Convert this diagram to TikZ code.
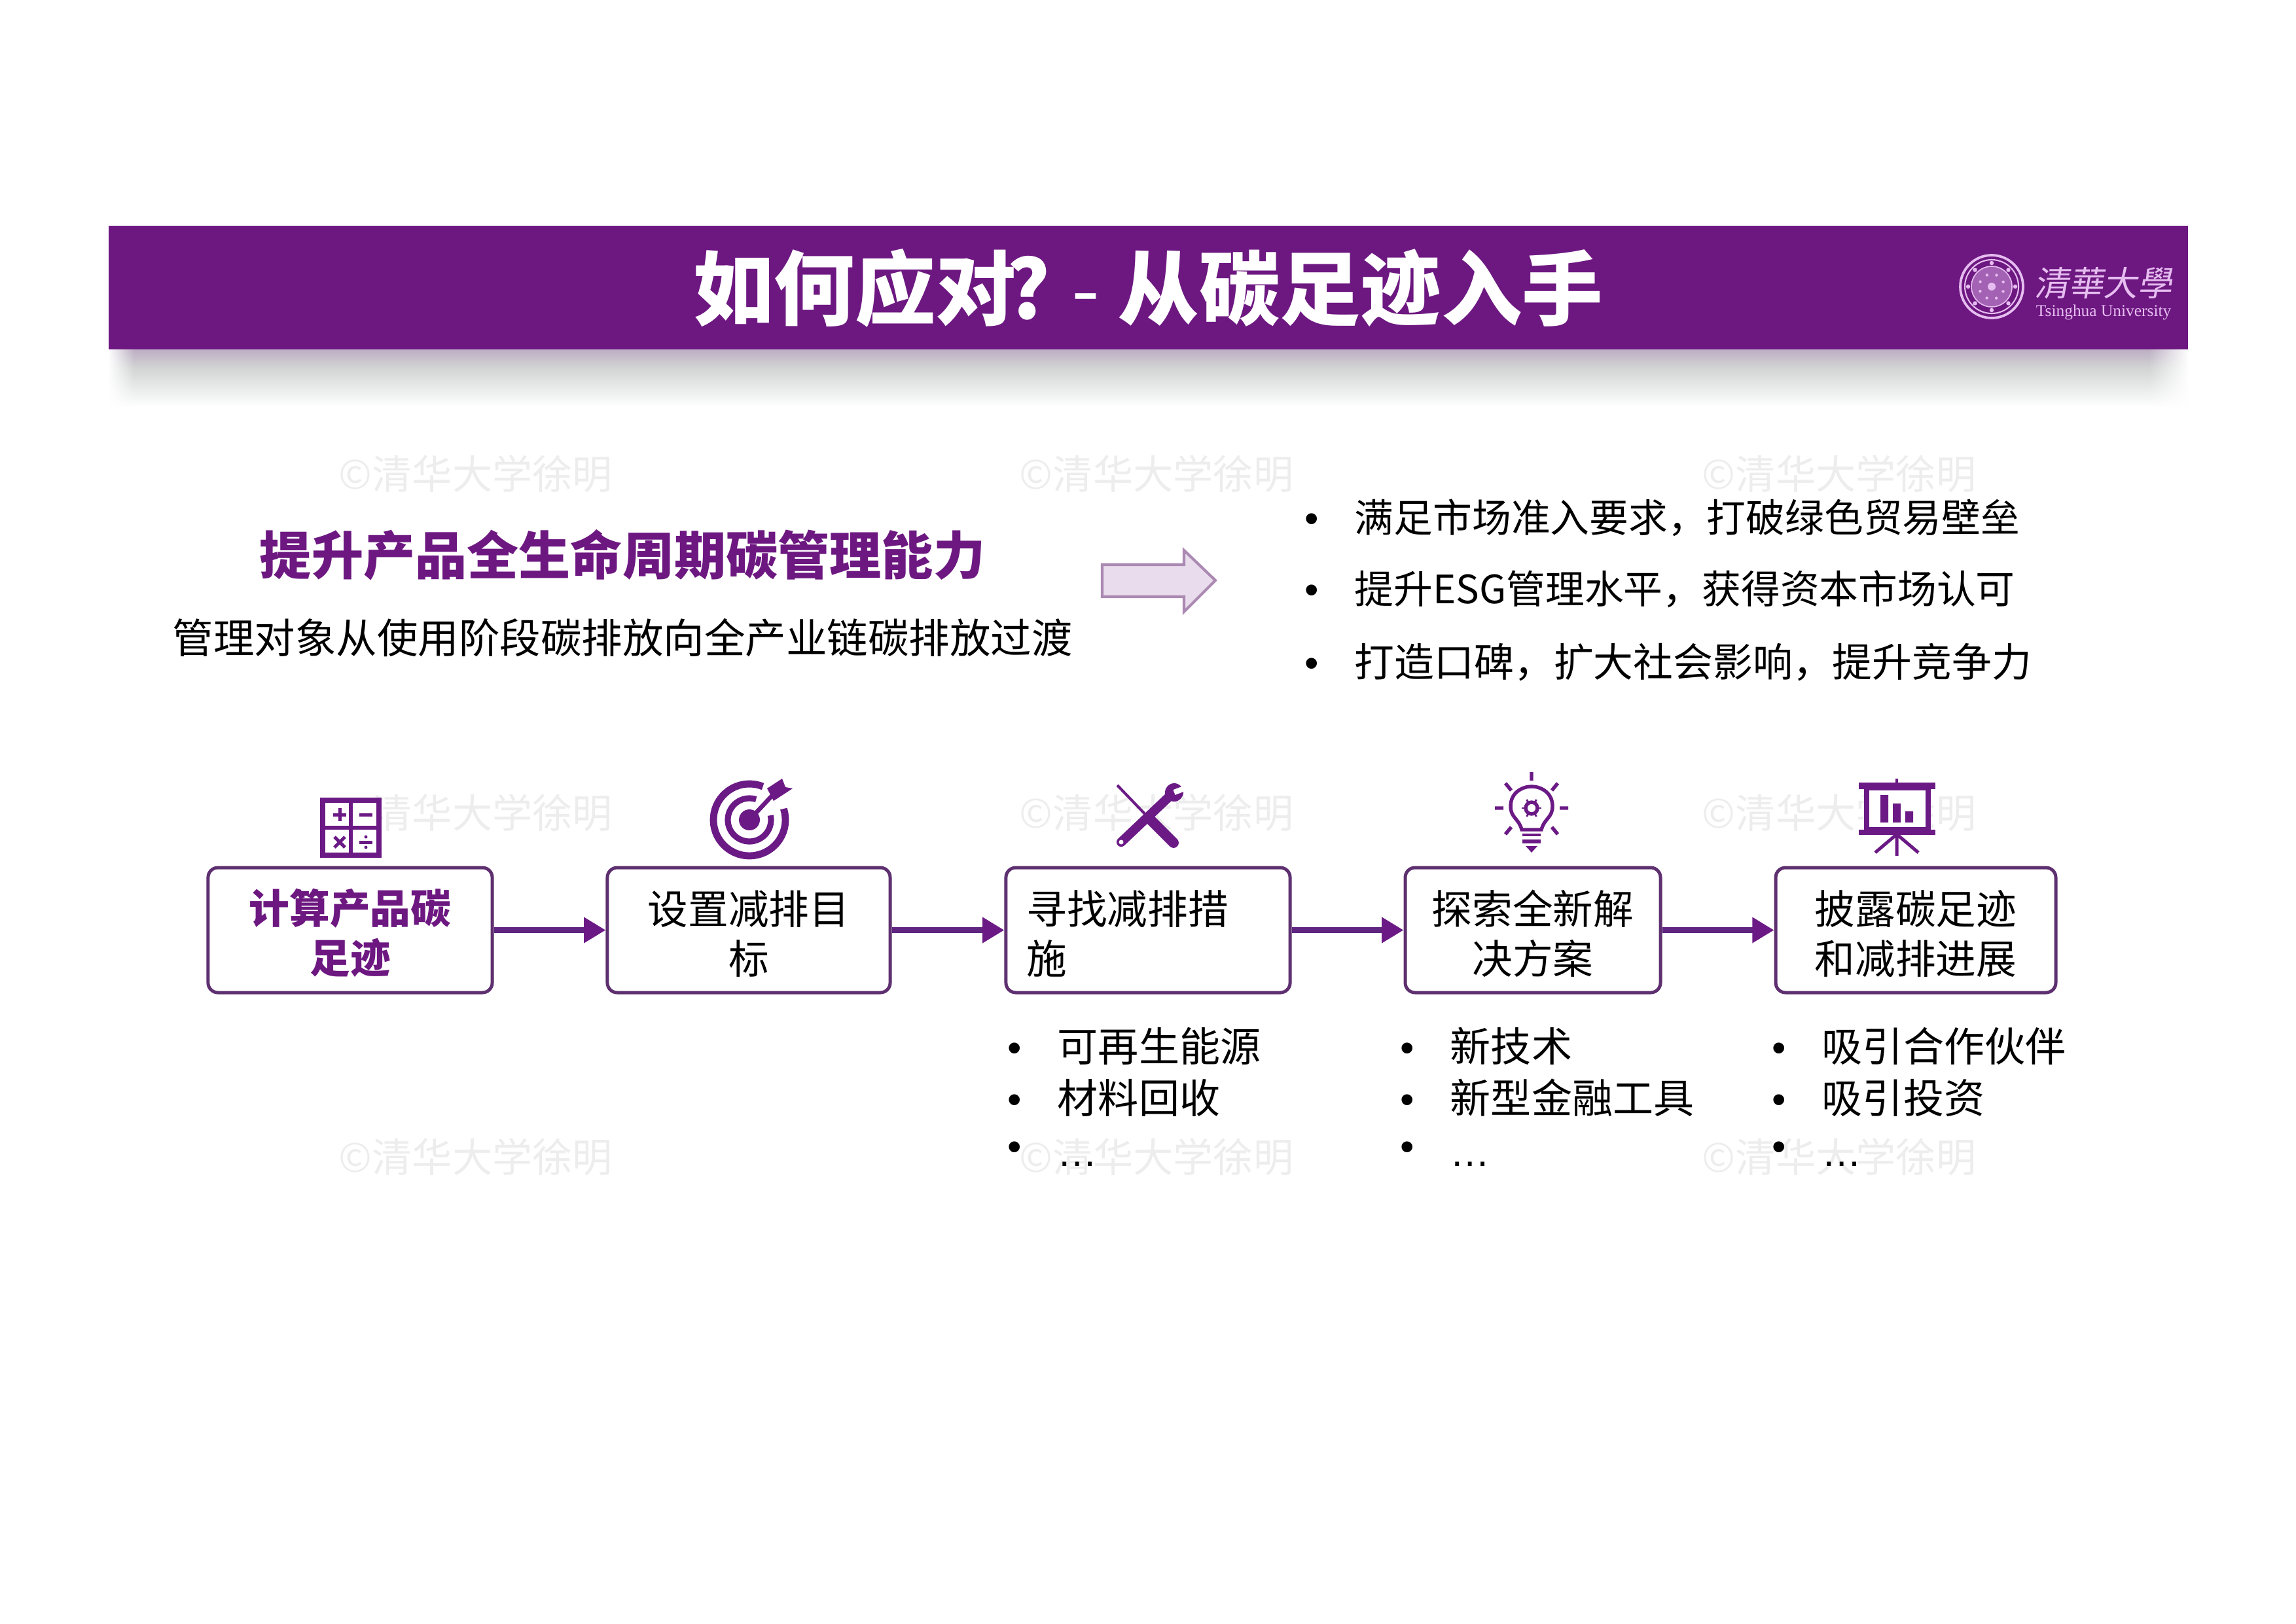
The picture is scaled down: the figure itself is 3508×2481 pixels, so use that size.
\documentclass[tikz,border=0pt]{standalone}
\usepackage{fontspec}
\setmainfont{Noto Sans CJK SC}
\newfontfamily\latinf{Liberation Sans}
\newfontfamily\serff{Liberation Serif}
\newfontfamily\logof[FakeSlant=0.18]{Noto Sans CJK TC}
\usetikzlibrary{arrows.meta,fadings}
\definecolor{banner}{HTML}{6D1881}
\definecolor{boxline}{HTML}{5E3070}
\definecolor{conncol}{HTML}{5F2580}
\definecolor{icon}{HTML}{6B1A85}
\definecolor{mark}{HTML}{EDEDED}
\definecolor{logoc}{HTML}{E6BDF0}
\definecolor{shadowa}{HTML}{BDAEC4}
\definecolor{shadowb}{HTML}{D2D4D4}
\newcommand\fwc{\char"FF0C\relax}
\newcommand\toprule{\rule{0pt}{15pt}}
\tikzset{
  wmark/.style={anchor=base,text=mark,inner sep=0pt,font=\fontsize{14.7}{18}\selectfont},
  fbox/.style={draw=boxline,fill=white,line width=1.2pt,rounded corners=3.6pt,inner sep=0pt,
     minimum height=45.84pt,align=center,font=\fontsize{14.8}{18.3}\selectfont},
  conn/.style={draw=conncol,line width=2.1pt,-{Triangle[length=8pt,width=9pt,color=icon]}},
  bul/.style={anchor=base,inner sep=0pt,font=\latinf\fontsize{14.7}{18}\selectfont},
  item/.style={anchor=base west,inner sep=0pt,font=\fontsize{14.9}{18}\selectfont},
  ritem/.style={anchor=base west,inner sep=0pt,font=\fontsize{14.35}{18}\selectfont},
  ic/.style={draw=icon,line width=1.3pt},
}
\begin{document}
\begin{tikzpicture}[x=0.24pt,y=-0.24pt]
\useasboundingbox (0,0) rectangle (3508,2481);
% banner shadow
\shade[top color=shadowa,bottom color=shadowb] (166,534) rectangle (3343,562);
\shade[top color=shadowb,bottom color=white] (166,562) rectangle (3343,622);
\fill[white,path fading=west] (3283,534) rectangle (3344,622);
\fill[white,path fading=east] (165,534) rectangle (205,622);
\fill[banner] (166,345) rectangle (3343,534);
% watermarks
\foreach \n/\px/\py in {wa/727/747,wb/1767/747,wc/2810/747,wd/727/1265,we/1767/1265,wf/2810/1265,wg/727/1791,wh/1767/1791,wi/2810/1791}
  \node[wmark] (\n) at (\px,\py) {©清华大学徐明};
% title
\node[anchor=base,inner sep=0pt,text=white,font=\bfseries\fontsize{29.6}{36}\selectfont] (title) at (1754,487) {如何应对\hspace{-3.5pt}?\hspace{-1pt} \textmd{-} 从碳足迹入手};
% logo
\draw[logoc,line width=0.9pt] (3043,438) circle (48);
\draw[logoc,line width=0.5pt] (3043,438) circle (41);
\draw[logoc,line width=0.4pt,fill=logoc!45!banner] (3043,438) circle (31);
\fill[logoc] (3043,438) circle (6);
\foreach \a in {0,45,...,315}{
  \fill[logoc] ({3043+36*cos(\a)},{438-36*sin(\a)}) circle (3.2);
  \fill[logoc] ({3043+19*cos(\a+22)},{438-19*sin(\a+22)}) circle (2.2);
}
\node[anchor=base west,inner sep=0pt,text=logoc,font=\logof\fontsize{12.6}{14}\selectfont] (logocn) at (3108,452) {清華大學};
\node[anchor=base west,inner sep=0pt,text=logoc,font=\serff\fontsize{6.1}{7}\selectfont] (logoen) at (3110,483) {Tsinghua University};
% heading
\node[anchor=base,inner sep=0pt,text=banner,font=\bfseries\fontsize{19}{23}\selectfont] (head) at (951,878) {提升产品全生命周期碳管理能力};
\node[anchor=base,inner sep=0pt,font=\fontsize{15}{18}\selectfont] (sub) at (951,998) {管理对象从使用阶段碳排放向全产业链碳排放过渡};
% big arrow
\draw[draw=black!20!banner!50!white,fill=banner!15!white,line width=1pt,line join=miter]
  (1684,863) -- (1809,863) -- (1809,841) -- (1857,887) -- (1809,935) -- (1809,912) -- (1684,912) -- cycle;
% right bullets
\node[bul] (ra) at (2004,813) {•};
\node[ritem] (rat) at (2069,813) {满足市场准入要求\fwc 打破绿色贸易壁垒};
\node[bul] (rb) at (2004,922) {•};
\node[ritem] (rbt) at (2069,922) {提升ESG管理水平\fwc 获得资本市场认可};
\node[bul] (rc) at (2004,1034) {•};
\node[ritem,font=\fontsize{14.6}{18}\selectfont] (rct) at (2069,1034) {打造口碑\fwc 扩大社会影响\fwc 提升竞争力};
% boxes
\node[fbox,minimum width=104.2pt,text=banner,font=\bfseries\fontsize{14.8}{18.3}\selectfont] (b1) at (535,1421.5) {\toprule 计算产品碳\\足迹};
\node[fbox,minimum width=103.7pt] (b2) at (1144,1421.5) {\toprule 设置减排目\\标};
\node[fbox,minimum width=104.2pt,text width=89pt,align=left] (b3) at (1754,1421.5) {\toprule 寻找减排措\\施};
\node[fbox,minimum width=93.6pt] (b4) at (2342,1421.5) {\toprule 探索全新解\\决方案};
\node[fbox,minimum width=102.7pt] (b5) at (2927,1421.5) {\toprule 披露碳足迹\\和减排进展};
\draw[conn] (b1) -- (b2);
\draw[conn] (b2) -- (b3);
\draw[conn] (b3) -- (b4);
\draw[conn] (b4) -- (b5);
% lists
\node[bul] (la) at (1550,1622) {•};
\node[item] (lat) at (1615,1622) {可再生能源};
\node[bul] (lb) at (1550,1701) {•};
\node[item] (lbt) at (1615,1701) {材料回收};
\node[bul] (lc) at (1550,1773) {•};
\node[item,font=\latinf\fontsize{14.7}{18}\selectfont] (lct) at (1615,1782) {…};
\node[bul] (ma) at (2150,1622) {•};
\node[item] (mat) at (2215,1622) {新技术};
\node[bul] (mb) at (2150,1701) {•};
\node[item] (mbt) at (2215,1701) {新型金融工具};
\node[bul] (mc) at (2150,1773) {•};
\node[item,font=\latinf\fontsize{14.7}{18}\selectfont] (mct) at (2215,1782) {…};
\node[bul] (na) at (2718,1622) {•};
\node[item] (nat) at (2783,1622) {吸引合作伙伴};
\node[bul] (nb) at (2718,1701) {•};
\node[item] (nbt) at (2783,1701) {吸引投资};
\node[bul] (nc) at (2718,1773) {•};
\node[item,font=\latinf\fontsize{14.7}{18}\selectfont] (nct) at (2783,1782) {…};
% icon: calculator
\draw[ic,line width=1.9pt,fill=white] (493,1223) rectangle (579,1307);
\draw[ic] (536,1223) -- (536,1307) (493,1265) -- (579,1265);
\begin{scope}[ic,line width=1.2pt]
\draw (509,1245) -- (529,1245) (519,1235) -- (519,1255);
\draw (549,1245) -- (569,1245);
\draw (511,1279) -- (527,1295) (511,1295) -- (527,1279);
\draw (549,1287) -- (569,1287);
\fill[icon] (559,1279) circle (2.5) (559,1295) circle (2.5);
\end{scope}
% icon: target
\draw[ic,line width=2.6pt] plot[domain=68:378,samples=50] ({1145+55*cos(\x)},{1253-55*sin(\x)});
\draw[ic,line width=2.2pt] plot[domain=72:372,samples=50] ({1145+33*cos(\x)},{1253-33*sin(\x)});
\fill[icon] (1145,1253) circle (16);
\draw[ic,line width=1.6pt] (1145,1253) -- (1188,1207);
\fill[icon] (1195,1190) -- (1200,1203) -- (1211,1205) -- (1182,1224) -- (1172,1205) -- cycle;
% icon: tools
\draw[ic,line width=1pt] (1707,1200) -- (1755,1250);
\draw[ic,line width=3.8pt,line cap=round] (1755,1250) -- (1793,1288);
\draw[ic,line width=3.4pt,line cap=round] (1713,1287) -- (1788,1216);
\fill[icon] (1794,1211) circle (14);
\draw[white,line width=2pt] (1794,1211) -- (1812,1204);
\fill[white] (1713,1287) circle (3.5);
% icon: bulb
\draw[ic] (2325,1268) .. controls (2320,1250) and (2308,1250) .. (2308,1232) .. controls (2308,1212) and (2325,1202) .. (2340,1202) .. controls (2355,1202) and (2372,1212) .. (2372,1232) .. controls (2372,1250) and (2360,1250) .. (2355,1268) -- cycle;
\draw[ic] (2340,1235) circle (9);
\foreach \a in {0,60,...,300}
  \draw[ic,line width=0.7pt] ({2340+9*cos(\a)},{1235-9*sin(\a)}) -- ({2340+15*cos(\a)},{1235-15*sin(\a)});
\draw[ic,line width=0.8pt] (2326,1276) -- (2354,1276);
\draw[ic,line width=1.6pt] (2326,1286) -- (2354,1286);
\fill[icon] (2331,1293) -- (2349,1293) -- (2340,1303) -- cycle;
\draw[ic] (2340,1180) -- (2340,1193) (2284,1235) -- (2297,1235) (2383,1235) -- (2396,1235)
 (2300,1197) -- (2309,1208) (2380,1197) -- (2371,1208) (2300,1275) -- (2309,1264) (2380,1275) -- (2371,1264);
% icon: board
\draw[ic,line width=1pt] (2898,1190) -- (2898,1198);
\fill[icon] (2840,1196) rectangle (2957,1206);
\fill[icon] (2840,1268) rectangle (2957,1276);
\draw[ic,line width=2pt,fill=white] (2852,1204) rectangle (2946,1268);
\fill[icon] (2873,1215) rectangle (2885,1257) (2892,1228) rectangle (2904,1257) (2911,1240) rectangle (2923,1257);
\draw[ic,line width=1.2pt] (2898,1275) -- (2898,1308) (2898,1275) -- (2865,1303) (2898,1275) -- (2931,1303);
\end{tikzpicture}
\end{document}
